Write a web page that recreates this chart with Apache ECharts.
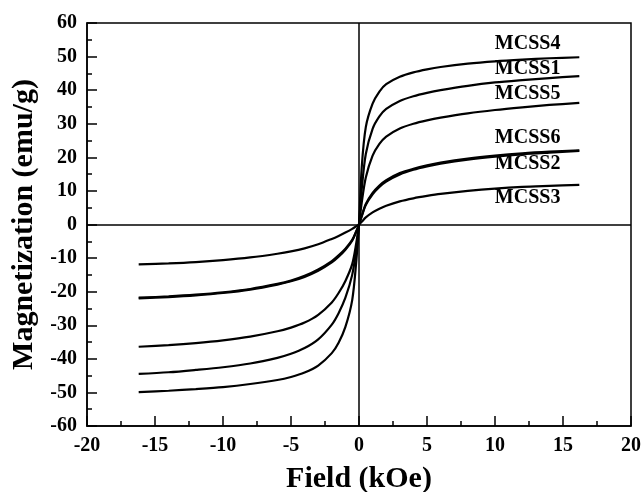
<!DOCTYPE html>
<html>
<head>
<meta charset="utf-8">
<script src="https://cdn.jsdelivr.net/npm/echarts@6/dist/echarts.min.js"></script>
<style>
  html, body { margin: 0; padding: 0; background: #fff; }
  #chart { width: 642px; height: 492px; }
</style>
</head>
<body>
<div id="chart"></div>
<script>
// field in kOe
const field = [-16.2, -14, -12, -10, -8, -6, -5, -4, -3, -2, -1.5, -1, -0.5, -0.2, 0, 0.2, 0.5, 1, 1.5, 2, 3, 4, 5, 6, 8, 10, 12, 14, 16.2];

// magnetization (emu/g)
const mcss4 = [-49.9, -49.5, -49.0, -48.4, -47.5, -46.3, -45.4, -44.1, -42.0, -38.3, -35.2, -30.5, -22.5, -11.0, 0, 17.0, 29.0, 36.0, 39.6, 41.8, 44.0, 45.3, 46.2, 46.9, 47.9, 48.6, 49.1, 49.5, 49.8];
const mcss1 = [-44.5, -44.0, -43.3, -42.5, -41.4, -39.7, -38.5, -36.8, -34.2, -29.8, -26.4, -21.8, -15.0, -7.5, 0, 10.5, 21.0, 28.5, 32.2, 34.4, 36.8, 38.2, 39.2, 40.0, 41.3, 42.3, 43.0, 43.6, 44.2];
const mcss5 = [-36.4, -35.9, -35.3, -34.5, -33.4, -31.8, -30.7, -29.2, -26.9, -23.2, -20.4, -16.8, -11.8, -5.5, 0, 6.5, 14.0, 20.5, 24.0, 26.2, 28.6, 30.0, 31.0, 31.8, 33.1, 34.1, 34.9, 35.6, 36.2];
const mcss6 = [-21.8, -21.4, -20.9, -20.2, -19.2, -17.7, -16.7, -15.3, -13.4, -10.9, -9.2, -7.2, -4.6, -2.0, 0, 2.6, 6.1, 9.4, 11.6, 13.2, 15.3, 16.6, 17.6, 18.4, 19.6, 20.5, 21.2, 21.7, 22.1];
const mcss2 = [-22.0, -21.6, -21.1, -20.4, -19.4, -17.9, -16.9, -15.6, -13.8, -11.3, -9.6, -7.5, -4.8, -2.1, 0, 2.4, 5.8, 9.0, 11.2, 12.8, 14.9, 16.3, 17.3, 18.1, 19.3, 20.2, 20.9, 21.4, 21.9];
const mcss3 = [-11.9, -11.6, -11.2, -10.6, -9.8, -8.7, -8.0, -7.1, -5.9, -4.3, -3.4, -2.4, -1.3, -0.5, 0, 0.8, 2.1, 3.6, 4.7, 5.6, 6.9, 7.8, 8.5, 9.1, 10.0, 10.7, 11.2, 11.5, 11.8];

const names = ['MCSS4', 'MCSS1', 'MCSS5', 'MCSS6', 'MCSS2', 'MCSS3'];
const values = [mcss4, mcss1, mcss5, mcss6, mcss2, mcss3];
// where each sample name sits, in data units
const labelAt = [[12.4, 53.9], [12.4, 46.5], [12.4, 38.8], [12.4, 25.7], [12.4, 18.2], [12.4, 7.8]];

const serif = '"Liberation Serif", "Times New Roman", serif';

const chart = echarts.init(document.getElementById('chart'));

const series = values.map((v, i) => ({
  name: names[i],
  type: 'line',
  data: field.map((f, j) => [f, v[j]]),
  smooth: 0.3,
  showSymbol: false,
  lineStyle: { color: '#000', width: 2.2 },
  z: 3,
  markPoint: {
    symbol: 'circle',
    symbolSize: 0,
    data: [{ coord: labelAt[i] }],
    label: {
      show: true,
      formatter: names[i],
      color: '#000',
      fontFamily: serif,
      fontWeight: 'bold',
      fontSize: 20
    }
  }
}));

// zero lines
series[0].markLine = {
  silent: true,
  symbol: 'none',
  label: { show: false },
  lineStyle: { color: '#000', width: 1.5, type: 'solid' },
  data: [{ xAxis: 0 }, { yAxis: 0 }]
};

const option = {
  animation: false,
  backgroundColor: '#fff',
  grid: {
    left: 87, right: 11, top: 23, bottom: 66,
    outerBoundsMode: 'none',
    containLabel: false,
    show: true, borderColor: '#000', borderWidth: 1.5
  },
  xAxis: {
    type: 'value',
    min: -20, max: 20, interval: 5,
    name: 'Field (kOe)',
    nameLocation: 'middle',
    nameGap: 38,
    nameTextStyle: { fontFamily: serif, fontWeight: 'bold', fontSize: 30, color: '#000' },
    axisLine: { onZero: false, lineStyle: { color: '#000', width: 1.5 } },
    axisTick: { inside: true, length: 10, lineStyle: { color: '#000', width: 1.5 } },
    minorTick: { show: true, splitNumber: 2, length: 5, lineStyle: { color: '#000', width: 1.5 } },
    splitLine: { show: false },
    axisLabel: { fontFamily: serif, fontWeight: 'bold', fontSize: 20, color: '#000', margin: 10 }
  },
  yAxis: {
    type: 'value',
    min: -60, max: 60, interval: 10,
    name: 'Magnetization (emu/g)',
    nameLocation: 'middle',
    nameGap: 43,
    nameTextStyle: { fontFamily: serif, fontWeight: 'bold', fontSize: 30, color: '#000' },
    axisLine: { onZero: false, lineStyle: { color: '#000', width: 1.5 } },
    axisTick: { inside: true, length: 10, lineStyle: { color: '#000', width: 1.5 } },
    minorTick: { show: true, splitNumber: 2, length: 5, lineStyle: { color: '#000', width: 1.5 } },
    splitLine: { show: false },
    axisLabel: { fontFamily: serif, fontWeight: 'bold', fontSize: 20, color: '#000', margin: 10 }
  },
  series: series
};

chart.setOption(option);
</script>
</body>
</html>
